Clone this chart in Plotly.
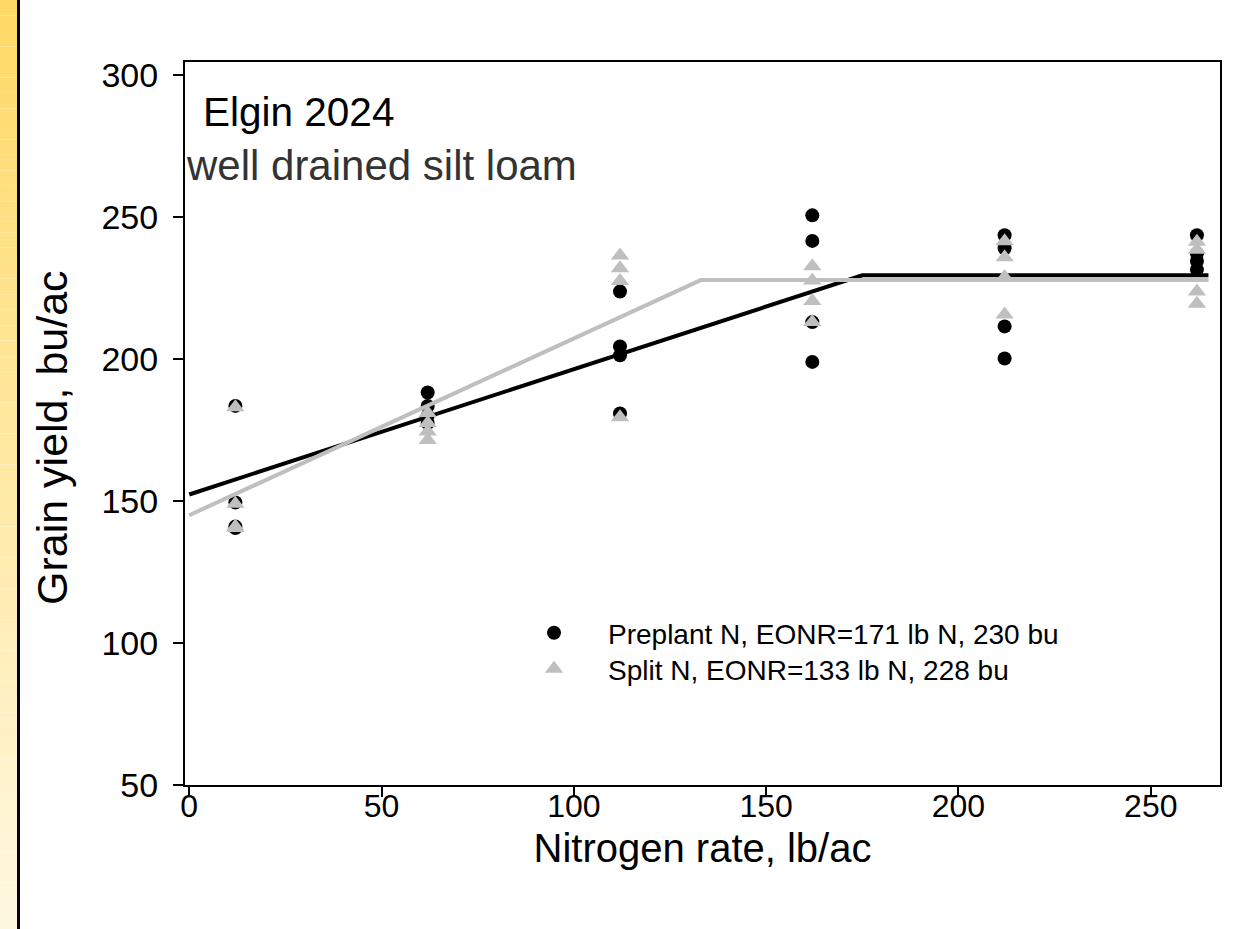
import plotly.graph_objects as go

# Nitrogen rates (lb N/ac) applied in the trial, four replicate plots each
rates = [12, 62, 112, 162, 212, 262]

# Grain yield (bu/ac) per replicate, listed by rate
preplant_yield = [
    [183.5, 149.5, 141.0, 140.5],
    [188.2, 183.5, 180.0, 177.5],
    [223.8, 204.4, 201.3, 180.8],
    [250.6, 241.6, 213.0, 199.0],
    [243.6, 239.0, 211.5, 200.2],
    [243.6, 237.2, 234.5, 231.5],
]
split_yield = [
    [183.0, 149.0, 140.5, 141.0],
    [181.0, 177.5, 174.5, 171.5],
    [236.5, 232.0, 227.5, 179.5],
    [232.7, 227.7, 220.4, 213.0],
    [241.5, 235.8, 228.9, 215.7],
    [241.3, 238.5, 223.8, 219.5],
]

# Fitted linear-plateau response curves
preplant_fit_x = [0, 175, 265]
preplant_fit_y = [152.3, 229.5, 229.5]
split_fit_x = [0, 133, 265]
split_fit_y = [145.0, 227.8, 227.8]

preplant_label = "Preplant N, EONR=171 lb N, 230 bu"
split_label = "Split N, EONR=133 lb N, 228 bu"

x_ticks = [0, 50, 100, 150, 200, 250]
y_ticks = [50, 100, 150, 200, 250, 300]


def flatten(rate_list, yields):
    xs, ys = [], []
    for r, reps in zip(rate_list, yields):
        for v in reps:
            xs.append(r)
            ys.append(v)
    return xs, ys


px, py = flatten(rates, preplant_yield)
sx, sy = flatten(rates, split_yield)

BLACK = "#000000"
GRAY = "#bfbfbf"
FONT = "Liberation Sans, Arial, sans-serif"

# plot-area geometry in pixels, used to place paper-referenced items
L, R, T, B = 185, 1220, 62, 785
PW, PH = R - L, B - T


def px_to_paper_x(v):
    return (v - L) / PW


def px_to_paper_y(v):
    return (B - v) / PH


fig = go.Figure()

fig.add_trace(go.Scatter(
    x=px, y=py, mode="markers", name=preplant_label, legend="legend",
    marker=dict(symbol="circle", size=14, color=BLACK, line=dict(width=0)),
))
fig.add_trace(go.Scatter(
    x=preplant_fit_x, y=preplant_fit_y, mode="lines", showlegend=False,
    line=dict(color=BLACK, width=4),
))
fig.add_trace(go.Scatter(
    x=split_fit_x, y=split_fit_y, mode="lines", showlegend=False,
    line=dict(color=GRAY, width=4),
))
fig.add_trace(go.Scatter(
    x=sx, y=sy, mode="markers", name=split_label, legend="legend2",
    marker=dict(symbol="triangle-up", size=16, color=GRAY, line=dict(width=0)),
))

axis_common = dict(
    showline=True, linecolor=BLACK, linewidth=2, mirror=True,
    ticks="outside", ticklen=10, tickwidth=2, tickcolor=BLACK,
    showgrid=False, zeroline=False,
)

legend_common = dict(
    xanchor="left", yanchor="top",
    bgcolor="rgba(0,0,0,0)", borderwidth=0,
    font=dict(family=FONT, size=28, color=BLACK),
    itemwidth=98, tracegroupgap=0,
)

fig.update_layout(
    width=1249, height=929,
    margin=dict(l=L, r=1249 - R, t=T, b=929 - B),
    paper_bgcolor="white", plot_bgcolor="white",
    font=dict(family=FONT, color=BLACK),
    xaxis=dict(
        range=[-1.1, 268], tickvals=x_ticks,
        tickfont=dict(family=FONT, size=32, color=BLACK),
        ticklabelstandoff=-18,
        title=dict(text="Nitrogen rate, lb/ac", font=dict(family=FONT, size=40), standoff=11),
        **axis_common,
    ),
    yaxis=dict(
        range=[50, 304.6], tickvals=y_ticks,
        tickfont=dict(family=FONT, size=34, color=BLACK),
        ticklabelstandoff=8,
        **axis_common,
    ),
    legend=dict(x=px_to_paper_x(500), y=px_to_paper_y(608), **legend_common),
    legend2=dict(x=px_to_paper_x(500), y=px_to_paper_y(644), **legend_common),
    annotations=[
        dict(text="Grain yield, bu/ac", xref="paper", yref="paper",
             x=px_to_paper_x(52), y=px_to_paper_y(438), textangle=-90,
             xanchor="center", yanchor="middle", showarrow=False,
             font=dict(family=FONT, size=43, color=BLACK)),
        dict(text="Elgin 2024", xref="paper", yref="paper",
             x=px_to_paper_x(201), y=px_to_paper_y(112),
             xanchor="left", yanchor="middle", showarrow=False,
             font=dict(family=FONT, size=40.5, color=BLACK)),
        dict(text="well drained silt loam", xref="paper", yref="paper",
             x=px_to_paper_x(184), y=px_to_paper_y(165),
             xanchor="left", yanchor="middle", showarrow=False,
             font=dict(family=FONT, size=42, color="#333333")),
    ],
)

# Yellow gradient strip with a dark rule along the left edge of the page
shapes = []
n_bands = 60
top_rgb = (255, 217, 102)
bot_rgb = (255, 248, 224)
for i in range(n_bands):
    t = i / (n_bands - 1)
    c = tuple(round(a + (b - a) * t) for a, b in zip(top_rgb, bot_rgb))
    y_top = i * 929 / n_bands
    y_bot = (i + 1) * 929 / n_bands
    shapes.append(dict(
        type="rect", xref="paper", yref="paper",
        x0=px_to_paper_x(0), x1=px_to_paper_x(17),
        y0=px_to_paper_y(y_bot), y1=px_to_paper_y(y_top),
        fillcolor="rgb(%d,%d,%d)" % c, line=dict(width=0), layer="below",
    ))
shapes.append(dict(
    type="line", xref="paper", yref="paper",
    x0=px_to_paper_x(18.5), x1=px_to_paper_x(18.5),
    y0=px_to_paper_y(929), y1=px_to_paper_y(0),
    line=dict(color=BLACK, width=3),
))
fig.update_layout(shapes=shapes)

fig.write_html("out.html")
